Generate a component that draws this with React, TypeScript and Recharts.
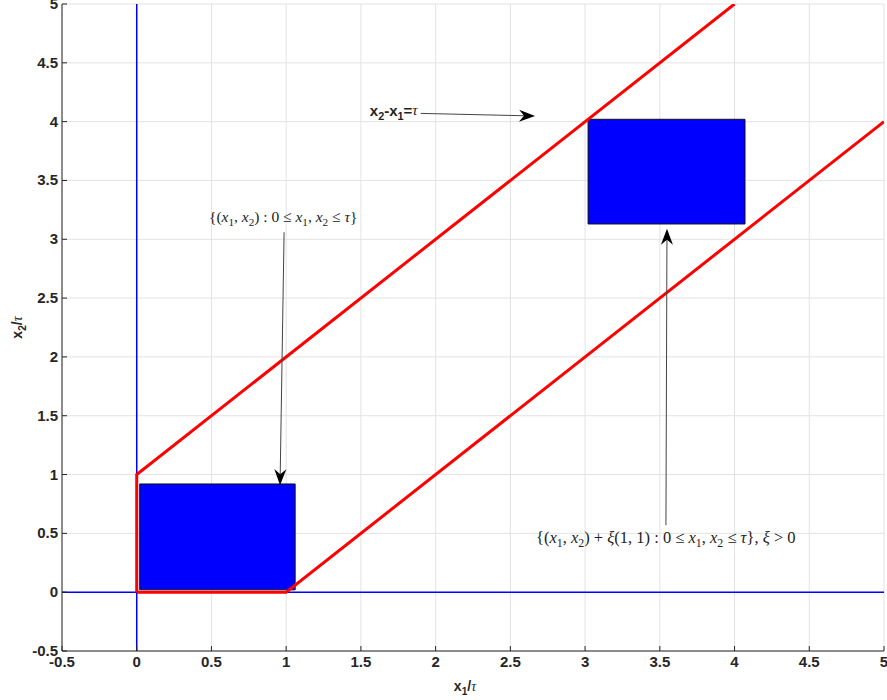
import React from 'react';
import {
  ComposedChart,
  Line,
  XAxis,
  YAxis,
  CartesianGrid,
  ReferenceLine,
  ReferenceArea,
  ReferenceDot,
} from 'recharts';

// axis ticks (x and y share the same range)
const TICKS = [-0.5, 0, 0.5, 1, 1.5, 2, 2.5, 3, 3.5, 4, 4.5, 5];

// red boundary lines of the strip
const upperBoundary = [
  { x: 0, y: 0 },
  { x: 0, y: 1 },
  { x: 4, y: 5 },
];
const lowerBoundary = [
  { x: 0, y: 0 },
  { x: 1, y: 0 },
  { x: 5, y: 4 },
];

// blue squares: [x1, x2] and [y1, y2]
const squareX = [0.02, 1.06];
const squareY = [0.02, 0.92];
const shiftedX = [3.02, 4.07];
const shiftedY = [3.13, 4.02];

const AXIS_COLOR = '#262626';
const SANS = '"Liberation Sans", Arial, Helvetica, sans-serif';
const SERIF = '"Liberation Serif", "DejaVu Serif", serif';

// n = normal, i = italic, s = subscript, g = serif italic (greek)
type Part = [string, 'n' | 'i' | 's' | 'g'];

function richText(parts: Part[], size: number) {
  let wasSub = false;
  return parts.map(([t, kind], i) => {
    let dy = 0;
    if (kind === 's' && !wasSub) dy = size * 0.3;
    if (kind !== 's' && wasSub) dy = -size * 0.3;
    wasSub = kind === 's';
    return (
      <tspan
        key={i}
        dy={dy || undefined}
        fontStyle={kind === 'i' || kind === 'g' ? 'italic' : 'normal'}
        fontWeight={kind === 'g' ? 'normal' : undefined}
        fontFamily={kind === 'g' ? SERIF : undefined}
        fontSize={kind === 's' ? size * 0.72 : size}
      >
        {t}
      </tspan>
    );
  });
}

const setLabel: Part[] = [
  ['{(', 'n'], ['x', 'i'], ['1', 's'], [', ', 'n'], ['x', 'i'], ['2', 's'],
  [') : 0 ≤ ', 'n'], ['x', 'i'], ['1', 's'], [', ', 'n'], ['x', 'i'], ['2', 's'],
  [' ≤ ', 'n'], ['τ', 'i'], ['}', 'n'],
];
const shiftedLabel: Part[] = [
  ['{(', 'n'], ['x', 'i'], ['1', 's'], [', ', 'n'], ['x', 'i'], ['2', 's'],
  [') + ', 'n'], ['ξ', 'i'], ['(1, 1) : 0 ≤ ', 'n'], ['x', 'i'], ['1', 's'], [', ', 'n'],
  ['x', 'i'], ['2', 's'], [' ≤ ', 'n'], ['τ', 'i'], ['}, ', 'n'], ['ξ', 'i'], [' > 0', 'n'],
];
const lineLabel: Part[] = [
  ['x', 'n'], ['2', 's'], ['-x', 'n'], ['1', 's'], ['=', 'n'], ['τ', 'g'],
];

const arrowShape = (props: any) => {
  const { x1, y1, x2, y2 } = props;
  const a = Math.atan2(y2 - y1, x2 - x1);
  const c = Math.cos(a);
  const s = Math.sin(a);
  const pt = (d: number, w: number) => `${x2 - d * c - w * s},${y2 - d * s + w * c}`;
  return (
    <g>
      <line x1={x1} y1={y1} x2={x2 - 10 * c} y2={y2 - 10 * s} stroke="#444" strokeWidth={1} />
      <polygon points={`${x2},${y2} ${pt(16, 6)} ${pt(11, 0)} ${pt(16, -6)}`} fill="#000" />
    </g>
  );
};

const textShape = (parts: Part[], anchor: string, bold = false, font = SERIF, size = 13) =>
  (props: any) => (
    <text
      x={props.cx}
      y={props.cy}
      textAnchor={anchor}
      dominantBaseline="middle"
      fontFamily={font}
      fontWeight={bold ? 'bold' : 'normal'}
      fill="#222"
      fontSize={size}
    >
      {richText(parts, size)}
    </text>
  );

const XTick = (props: any) => {
  const { x, y, payload } = props;
  return (
    <g>
      <line x1={x} y1={y} x2={x} y2={y - 5} stroke={AXIS_COLOR} />
      <text x={x} y={y + 16} textAnchor="middle" fontFamily={SANS} fontWeight="bold" fontSize={15} fill={AXIS_COLOR}>
        {payload.value}
      </text>
    </g>
  );
};

const YTick = (props: any) => {
  const { x, y, payload } = props;
  return (
    <g>
      <line x1={x} y1={y} x2={x + 5} y2={y} stroke={AXIS_COLOR} />
      <text x={x - 4} y={y + 5} textAnchor="end" fontFamily={SANS} fontWeight="bold" fontSize={15} fill={AXIS_COLOR}>
        {payload.value}
      </text>
    </g>
  );
};

const XLabel = (props: any) => {
  const vb = props.viewBox;
  return (
    <text x={vb.x + vb.width / 2 - 8} y={vb.y + 40} textAnchor="middle" fontFamily={SANS} fontWeight="bold" fontSize={14} fill={AXIS_COLOR}>
      {richText([['x', 'n'], ['1', 's'], ['/', 'n'], ['τ', 'g']], 14)}
    </text>
  );
};

const YLabel = (props: any) => {
  const vb = props.viewBox;
  const cx = 22;
  const cy = vb.y + vb.height / 2;
  return (
    <text x={cx} y={cy} transform={`rotate(-90 ${cx} ${cy})`} textAnchor="middle" fontFamily={SANS} fontWeight="bold" fontSize={14} fill={AXIS_COLOR}>
      {richText([['x', 'n'], ['2', 's'], ['/', 'n'], ['τ', 'g']], 14)}
    </text>
  );
};

export default function App() {
  return (
    <div style={{ width: 887, height: 700, background: '#fff' }}>
      <style>{'body{margin:0}'}</style>
      <ComposedChart width={887} height={700} margin={{ top: 4, right: 3, bottom: 0, left: 0 }}>
        <CartesianGrid stroke="#e3e3e3" strokeWidth={1} />
        <XAxis
          dataKey="x"
          type="number"
          domain={[-0.5, 5]}
          ticks={TICKS}
          allowDataOverflow
          height={49}
          tickSize={0}
          tickMargin={0}
          tick={<XTick />}
          stroke={AXIS_COLOR}
          label={{ content: <XLabel /> }}
          interval={0}
        />
        <YAxis
          type="number"
          domain={[-0.5, 5]}
          ticks={TICKS}
          allowDataOverflow
          width={62}
          tickSize={0}
          tickMargin={0}
          tick={<YTick />}
          stroke={AXIS_COLOR}
          label={{ content: <YLabel /> }}
          interval={0}
        />
        <ReferenceLine x={0} stroke="#0000ff" strokeWidth={1.5} />
        <ReferenceLine y={0} stroke="#0000ff" strokeWidth={1.5} />
        <ReferenceArea
          x1={squareX[0]}
          x2={squareX[1]}
          y1={squareY[0]}
          y2={squareY[1]}
          fill="#0000ff"
          fillOpacity={1}
          stroke="#111"
          strokeWidth={1}
        />
        <ReferenceArea
          x1={shiftedX[0]}
          x2={shiftedX[1]}
          y1={shiftedY[0]}
          y2={shiftedY[1]}
          fill="#0000ff"
          fillOpacity={1}
          stroke="#111"
          strokeWidth={1}
        />
        <Line data={upperBoundary} dataKey="y" type="linear" stroke="#ff0000" strokeWidth={3} dot={false} isAnimationActive={false} />
        <Line data={lowerBoundary} dataKey="y" type="linear" stroke="#ff0000" strokeWidth={3} dot={false} isAnimationActive={false} />
        <ReferenceLine segment={[{ x: 1.9, y: 4.07 }, { x: 2.665, y: 4.048 }]} shape={arrowShape} />
        <ReferenceLine segment={[{ x: 0.986, y: 3.06 }, { x: 0.959, y: 0.91 }]} shape={arrowShape} />
        <ReferenceLine segment={[{ x: 3.541, y: 0.57 }, { x: 3.548, y: 3.09 }]} shape={arrowShape} />
        <ReferenceDot x={1.88} y={4.08} r={0} shape={textShape(lineLabel, 'end', true, SANS, 15)} />
        <ReferenceDot x={0.98} y={3.18} r={0} shape={textShape(setLabel, 'middle', false, SERIF, 15.5)} />
        <ReferenceDot x={3.54} y={0.45} r={0} shape={textShape(shiftedLabel, 'middle', false, SERIF, 16.5)} />
      </ComposedChart>
    </div>
  );
}
